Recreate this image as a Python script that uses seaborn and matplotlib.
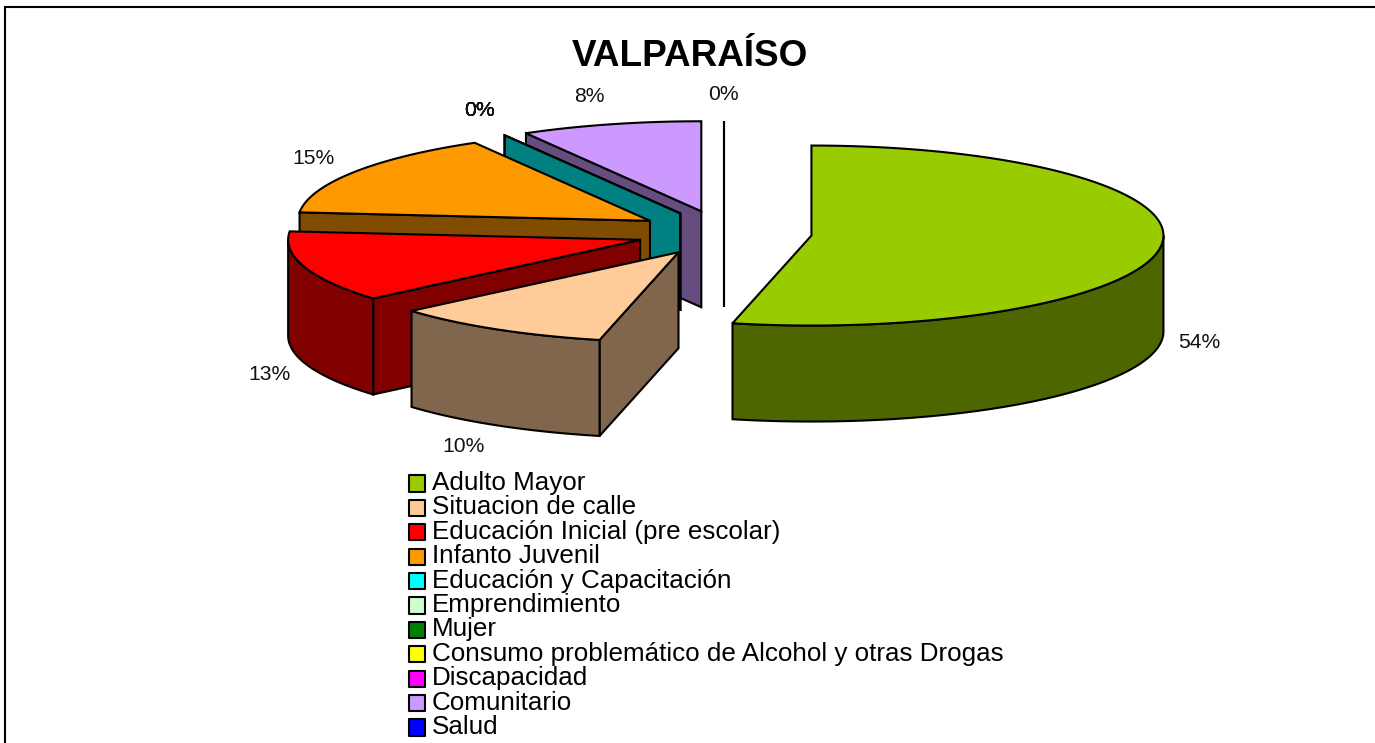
import numpy as np
import matplotlib
matplotlib.use("Agg")
import matplotlib.pyplot as plt
from matplotlib.patches import Polygon
import seaborn as sns

categories = ["Adulto Mayor", "Situacion de calle", "Educación Inicial (pre escolar)",
              "Infanto Juvenil", "Educación y Capacitación", "Emprendimiento", "Mujer",
              "Consumo problemático de Alcohol y otras Drogas", "Discapacidad",
              "Comunitario", "Salud"]
shares = [53.6, 10.1, 12.8, 15.2, 0, 0, 0, 0, 0, 8.3, 0]
colors = ["#99CC00", "#FFCC99", "#FF0000", "#FF9900", "#00FFFF", "#CCFFCC",
          "#008000", "#FFFF00", "#FF00FF", "#CC99FF", "#0000FF"]
title = "VALPARAÍSO"

sns.set_theme(style="white")
plt.rcParams["font.family"] = ["Liberation Sans", "DejaVu Sans"]

W, H = 1375, 743
fig = plt.figure(figsize=(W / 100, H / 100), dpi=100, facecolor="white")
ax = fig.add_axes([0, 0, 1, 1])
ax.set_xlim(0, W)
ax.set_ylim(H, 0)
ax.axis("off")

# pie geometry
CX, CY, RX, RY, DEPTH, EXPLODE = 724, 233, 352, 90, 96, 0.25
LW = 1.5


def dark(c):
    return tuple(v * 0.5 for v in matplotlib.colors.to_rgb(c))


def ell(t):
    return np.sin(t) * RX, -np.cos(t) * RY


def poly(pts, fc, z):
    ax.add_patch(Polygon(pts, closed=True, facecolor=fc, edgecolor="black",
                         linewidth=LW, joinstyle="miter", zorder=z))


edges = np.concatenate([[0], np.cumsum(shares)]) / np.sum(shares) * 2 * np.pi
wedges = []
for i in range(len(shares)):
    t0, t1 = edges[i], edges[i + 1]
    wedges.append((i, t0, t1, (t0 + t1) / 2))
wedges.sort(key=lambda w: (-np.cos(w[3]), -w[0]))

for z, (i, t0, t1, mid) in enumerate(wedges):
    ox, oy = ell(mid)
    ax0, ay0 = CX + EXPLODE * ox, CY + EXPLODE * oy
    c = colors[i]
    base = 10 + 3 * z
    # radial wall on the starting side
    if t0 >= np.pi:
        ex, ey = ell(t0)
        poly([(ax0, ay0), (ax0 + ex, ay0 + ey), (ax0 + ex, ay0 + ey + DEPTH),
              (ax0, ay0 + DEPTH)], dark(c), base)
    # curved outer wall
    a, b = max(t0, np.pi / 2), min(t1, 3 * np.pi / 2)
    if b > a:
        ts = np.linspace(a, b, 120)
        xs, ys = ell(ts)
        top = np.column_stack([ax0 + xs, ay0 + ys])
        low = np.column_stack([ax0 + xs, ay0 + ys + DEPTH])[::-1]
        poly(np.vstack([top, low]), dark(c), base + 1)
    # top face
    if t1 > t0:
        ts = np.linspace(t0, t1, 200)
        xs, ys = ell(ts)
        pts = np.vstack([[(ax0, ay0)], np.column_stack([ax0 + xs, ay0 + ys])])
        poly(pts, c, base + 2)

# percentage labels
label_pos = [(1199, 342), (464, 447), (270, 374), (314, 158), (479, 110), (479, 110),
             (479, 110), (479, 110), (479, 110), (589, 97), (723, 94)]
for s, (x, y) in zip(shares, label_pos):
    ax.text(x, y, f"{s / sum(shares) * 100:.0f}%", ha="center", va="center",
            fontsize=15.2, color="#111111", zorder=100)

ax.text(690, 56, title, ha="center", va="center", fontsize=26.6, fontweight="bold",
        color="black", zorder=100)

# legend
rows = 483.5 + 24.4 * np.arange(len(categories))
sns.scatterplot(x=[417] * len(categories), y=rows, hue=categories, hue_order=categories,
                palette=colors, marker="s", s=135, edgecolor="black", linewidth=1.5,
                legend=False, ax=ax, zorder=100)
ax.set_xlim(0, W)
ax.set_ylim(H, 0)
ax.axis("off")
for name, y in zip(categories, rows):
    ax.text(432, y + 6.5, name, ha="left", va="baseline", fontsize=18.7, color="black",
            zorder=100)

# outer frame
ax.plot([5.5, 5.5, W + 5], [H + 5, 7, 7], color="black", linewidth=1.5, zorder=100,
        solid_joinstyle="miter")

fig.savefig("out.png", dpi=100, facecolor="white")
